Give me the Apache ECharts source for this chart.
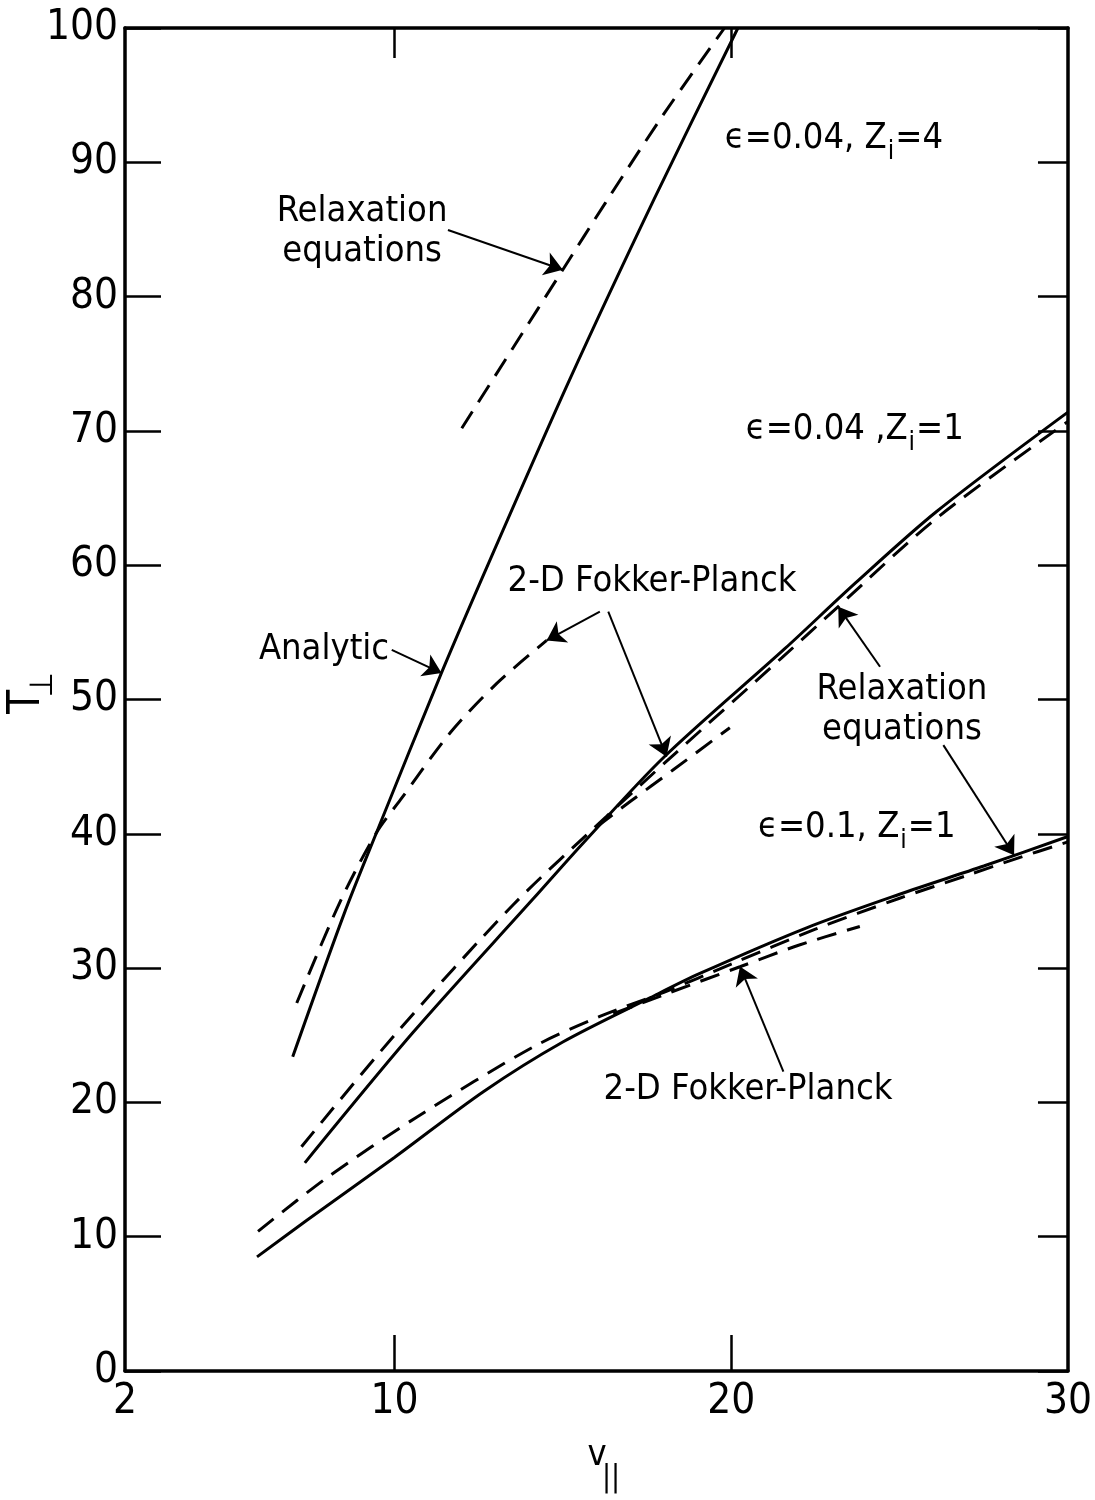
<!DOCTYPE html>
<html>
<head>
<meta charset="utf-8">
<script src="https://cdn.jsdelivr.net/npm/echarts@6/dist/echarts.min.js"></script>
<style>
  html, body { margin: 0; padding: 0; background: #fff; }
  #chart { width: 1095px; height: 1500px; }
</style>
</head>
<body>
<div id="chart"></div>
<script>
// ---- axis ticks ----
const xLabelValues = [2, 10, 20, 30];
const xTickValues = [10, 20];
const yTickValues = [0, 10, 20, 30, 40, 50, 60, 70, 80, 90, 100];

// ---- eps = 0.04, Zi = 4 ----
const analyticZ4 = [[6.98, 23.4], [8.5, 34.0], [9.47, 40.1], [11.4, 52.0], [12.84, 60.4], [15.2, 73.8], [17.7, 87.2], [20.2, 100]];
const relaxZ4 = [[12.0, 70.2], [13.5, 76.1], [15.0, 82.0], [16.27, 87.0], [18.0, 93.6], [19.8, 100]];
const fokkerZ4 = [[7.1, 27.4], [8.38, 34.9], [9.47, 40.1], [10.17, 42.5], [11.65, 47.5], [13.04, 51.2], [14.52, 54.4]];

// ---- eps = 0.04, Zi = 1 ----
const analyticZ1 = [[7.34, 15.5], [10.55, 25.2], [14.1, 35.1], [15.6, 39.3], [18.0, 45.7], [21.6, 53.8], [23.7, 58.7], [26.1, 64.0], [30, 71.4]];
const relaxZ1 = [[7.24, 16.7], [10.07, 25.2], [13.52, 34.7], [16.3, 41.3], [18.3, 45.9], [21.5, 53.1], [23.17, 56.9], [26.1, 63.5], [30, 70.7]];
const fokkerZ1 = [[16.0, 40.5], [17.0, 42.4], [18.27, 44.75], [19.96, 47.9]];

// ---- eps = 0.1, Zi = 1 ----
const analyticE1 = [[5.92, 8.5], [7.39, 11.2], [10.0, 15.9], [12.64, 20.8], [15.0, 24.5], [17.6, 27.8], [19.07, 29.6], [22.24, 33.0], [25.0, 35.5], [27.5, 37.6], [30, 39.8]];
const relaxE1 = [[5.95, 10.4], [8.0, 14.4], [10.66, 18.9], [14.1, 24.1], [16.1, 26.4], [18.0, 28.2], [20.0, 30.3], [22.5, 32.9], [25.0, 35.2], [27.0, 36.9], [28.4, 38.1], [30, 39.4]];
const fokkerE1 = [[16.5, 26.6], [18.2, 28.2], [20.26, 30.1], [22.0, 31.7], [23.82, 33.1]];

// ---- annotation arrows: [tail, tip] ----
const arrowLinks = [
  [[11.59, 84.96], [15.0, 82.0]],
  [[9.92, 53.69], [11.40, 51.97]],
  [[16.10, 56.54], [14.52, 54.4]],
  [[16.35, 56.54], [18.08, 45.74]],
  [[24.42, 52.44], [23.18, 56.9]],
  [[26.30, 46.6], [28.40, 38.4]],
  [[21.55, 22.29], [20.26, 30.12]]
];

// ---- annotation texts and their anchor points ----
const noteTexts = [
  'Relaxation\nequations',
  '{t|ϵ=0.04, Z}{s|i}{t|=4}',
  '{t|ϵ=0.04 ,Z}{s|i}{t|=1}',
  '2-D Fokker-Planck',
  'Analytic',
  'Relaxation\nequations',
  '{t|ϵ=0.1, Z}{s|i}{t|=1}',
  '2-D Fokker-Planck'
];
const noteAnchors = [
  [9.04, 84.81],
  [23.05, 91.74],
  [23.67, 70.07],
  [17.65, 58.75],
  [7.91, 53.69],
  [25.07, 49.22],
  [23.73, 40.43],
  [20.5, 20.92]
];

const FONT = "'Liberation Sans Narrow', 'DejaVu Sans Condensed', 'Liberation Sans', sans-serif";
const INK = '#000';

const solid = { color: INK, width: 3, type: 'solid', opacity: 1 };
const dashed = { color: INK, width: 3, type: [20, 11], opacity: 1 };

function curve(name, data, style) {
  return {
    name: name,
    type: 'line',
    data: data,
    showSymbol: false,
    symbol: 'none',
    smooth: 0.3,
    lineStyle: style,
    silent: true,
    z: 3
  };
}

const chart = echarts.init(document.getElementById('chart'), null, { renderer: 'canvas' });

const axisLineStyle = { color: INK, width: 3.5 };
const tickStyle = { color: INK, width: 2.5 };

chart.setOption({
  backgroundColor: '#fff',
  animation: false,
  grid: { left: 125, right: 27, top: 28, bottom: 129, containLabel: false },
  xAxis: [
    {
      type: 'value', min: 2, max: 30, position: 'bottom',
      axisLine: { show: true, onZero: false, lineStyle: axisLineStyle },
      axisTick: { show: true, inside: true, length: 36, customValues: xTickValues, lineStyle: tickStyle },
      axisLabel: { show: true, customValues: xLabelValues, color: INK, fontSize: 42, fontFamily: FONT, margin: 10 },
      splitLine: { show: false }
    },
    {
      type: 'value', min: 2, max: 30, position: 'top',
      axisLine: { show: true, onZero: false, lineStyle: axisLineStyle },
      axisTick: { show: true, inside: true, length: 30, customValues: xTickValues, lineStyle: tickStyle },
      axisLabel: { show: false },
      splitLine: { show: false }
    }
  ],
  yAxis: [
    {
      type: 'value', min: 0, max: 100, interval: 10, position: 'left',
      axisLine: { show: true, onZero: false, lineStyle: axisLineStyle },
      axisTick: { show: true, inside: true, length: 36, lineStyle: tickStyle },
      axisLabel: {
        show: true, color: INK, fontSize: 42, fontFamily: FONT, margin: 7,
        customValues: yTickValues
      },
      splitLine: { show: false }
    },
    {
      type: 'value', min: 0, max: 100, interval: 10, position: 'right',
      axisLine: { show: true, onZero: false, lineStyle: axisLineStyle },
      axisTick: { show: true, inside: true, length: 30, lineStyle: tickStyle },
      axisLabel: { show: false },
      splitLine: { show: false }
    }
  ],
  series: [
    curve('Analytic eps=0.04 Zi=4', analyticZ4, solid),
    curve('Relaxation eps=0.04 Zi=4', relaxZ4, dashed),
    curve('Fokker-Planck eps=0.04 Zi=4', fokkerZ4, dashed),
    curve('Analytic eps=0.04 Zi=1', analyticZ1, solid),
    curve('Relaxation eps=0.04 Zi=1', relaxZ1, dashed),
    curve('Fokker-Planck eps=0.04 Zi=1', fokkerZ1, dashed),
    curve('Analytic eps=0.1 Zi=1', analyticE1, solid),
    curve('Relaxation eps=0.1 Zi=1', relaxE1, dashed),
    curve('Fokker-Planck eps=0.1 Zi=1', fokkerE1, dashed),
    {
      name: 'pointers',
      type: 'lines',
      coordinateSystem: 'cartesian2d',
      polyline: false,
      symbol: ['none', 'arrow'],
      symbolSize: 18,
      silent: true,
      lineStyle: { color: INK, width: 2, opacity: 1, curveness: 0 },
      data: arrowLinks.map(function (pair) { return { coords: pair }; }),
      z: 4
    },
    {
      name: 'notes',
      type: 'scatter',
      symbolSize: 0,
      silent: true,
      itemStyle: { opacity: 1, color: INK },
      data: noteAnchors.map(function (p, i) {
        return { value: p, text: noteTexts[i] };
      }),
      label: {
        show: true,
        position: 'inside',
        color: INK,
        opacity: 1,
        fontFamily: FONT,
        fontSize: 36,
        lineHeight: 40,
        align: 'center',
        formatter: function (p) { return p.data.text; },
        rich: {
          t: { fontFamily: FONT, fontSize: 36, lineHeight: 40, color: INK },
          s: { fontFamily: FONT, fontSize: 26, lineHeight: 26, padding: [20, 1, 0, 1], verticalAlign: 'top', color: INK }
        }
      },
      z: 5
    }
  ],
  graphic: [
    {
      type: 'group', x: 28, y: 702, rotation: Math.PI / 2,
      children: [
        { type: 'text', x: 0, y: 0, style: { text: 'T', font: '44px ' + FONT, fill: INK, align: 'center', verticalAlign: 'middle' } },
        { type: 'text', x: 17, y: 16, style: { text: '⊥', font: '32px ' + FONT, fill: INK, align: 'center', verticalAlign: 'middle' } }
      ]
    },
    {
      type: 'group', x: 597, y: 1456,
      children: [
        { type: 'text', x: 0, y: 0, style: { text: 'v', font: '36px ' + FONT, fill: INK, align: 'center', verticalAlign: 'middle' } },
        { type: 'text', x: 14, y: 22, style: { text: '||', font: '30px ' + FONT, fill: INK, align: 'center', verticalAlign: 'middle' } }
      ]
    }
  ]
});
</script>
</body>
</html>
